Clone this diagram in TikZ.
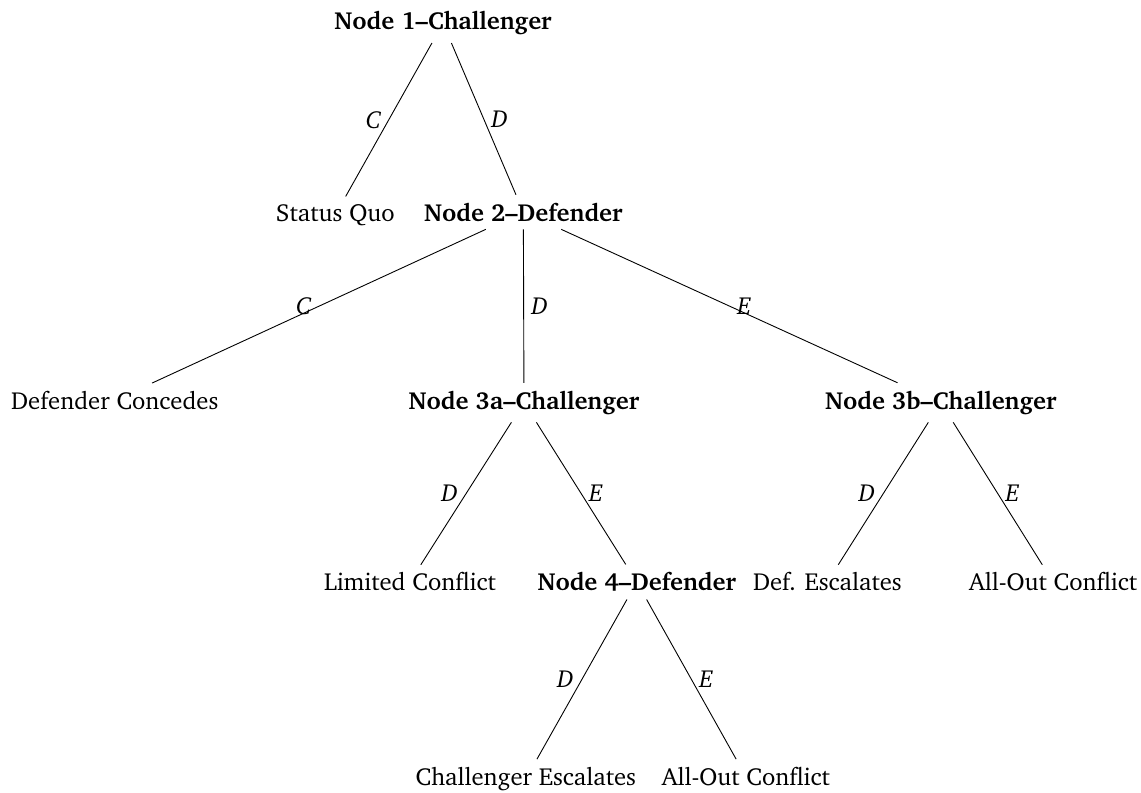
\documentclass[tikz,border=0pt]{standalone}
\IfFileExists{charter.sty}{%
  \usepackage[T1]{fontenc}\usepackage{charter}}{%
  \usepackage{fontspec}\setmainfont{Liberation Serif}}
\begin{document}
\begin{tikzpicture}[   % opciones por defecto
  draw=black!100,    % linea negro 100%
  font=\fontsize{11}{13.6}\selectfont
]
  \tikzstyle{decision}=[anchor=base, font=\fontsize{11}{13.6}\selectfont\bfseries];
  \tikzstyle{outcome}=[anchor=base];
  \tikzstyle{move}=[font=\fontsize{11}{13.6}\selectfont\itshape];
  %
  \useasboundingbox (0,0) rectangle (17.90,-12.43);
  %
  % nodo raiz
  \node [decision] (n1) at (6.95,-0.47) {Node 1--Challenger};
  %
  % segundo nivel
  \node [outcome]  (sq) at (5.26,-3.47) {Status Quo};
  \node [decision] (n2) at (8.21,-3.47) {Node 2--Defender};
  %
  % tercer nivel
  \node [outcome]  (dc)  at (1.80,-6.42)  {Defender Concedes};
  \node [decision] (n3a) at (8.22,-6.42)  {Node 3a--Challenger};
  \node [decision] (n3b) at (14.76,-6.42) {Node 3b--Challenger};
  %
  % cuarto nivel
  \node [outcome]  (lc)  at (6.43,-9.27)  {Limited Conflict};
  \node [decision] (n4)  at (9.99,-9.27)  {Node 4--Defender};
  \node [outcome]  (de)  at (12.98,-9.27) {Def. Escalates};
  \node [outcome]  (ao1) at (16.52,-9.27) {All-Out Conflict};
  %
  % quinto nivel
  \node [outcome]  (ce)  at (8.25,-12.32)  {Challenger Escalates};
  \node [outcome]  (ao2) at (11.70,-12.32) {All-Out Conflict};
  %
  % ramas del nodo 1
  \draw (n1) -- (sq) node [pos=0.5, left, move] {C};
  \draw (n1) -- (n2) node [pos=0.5, right, move] {D};
  %
  % ramas del nodo 2
  \draw (n2) -- (dc)  node [pos=0.5, left, move] {C};
  \draw (n2) -- (n3a) node [pos=0.5, right, move] {D};
  \draw (n2) -- (n3b) node [pos=0.5, right, move] {E};
  %
  % ramas de los nodos 3a y 3b
  \draw (n3a) -- (lc)  node [pos=0.5, left, move] {D};
  \draw (n3a) -- (n4)  node [pos=0.5, right, move] {E};
  \draw (n3b) -- (de)  node [pos=0.5, left, move] {D};
  \draw (n3b) -- (ao1) node [pos=0.5, right, move] {E};
  %
  % ramas del nodo 4
  \draw (n4) -- (ce)  node [pos=0.5, left, move] {D};
  \draw (n4) -- (ao2) node [pos=0.5, right, move] {E};
\end{tikzpicture}
\end{document}
